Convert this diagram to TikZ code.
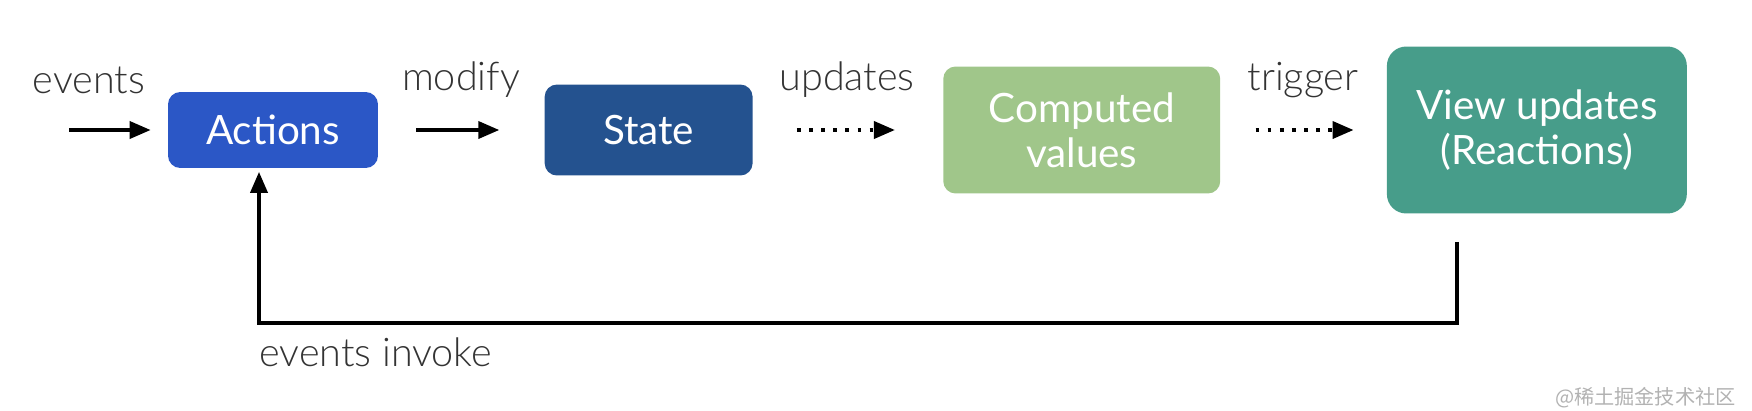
\documentclass[tikz,border=0pt]{standalone}
\usepackage{fontspec}
\setmainfont{Lato}
\newfontfamily\thinfont{Lato Light}
\newfontfamily\cjkfont{Noto Sans CJK SC}
\usepackage{tikz}
\usetikzlibrary{positioning,arrows.meta,calc}
\definecolor{actblue}{HTML}{2B57C6}
\definecolor{statblue}{HTML}{24528F}
\definecolor{compgreen}{HTML}{A0C68A}
\definecolor{viewteal}{HTML}{479D8A}
\definecolor{labelgray}{HTML}{333333}

\begin{document}
\begin{tikzpicture}[
      x=0.02cm, y=-0.02cm,
      box/.style={rounded corners=7pt,align=center,inner sep=0pt,text=white,
        font=\fontsize{23}{25.5}\selectfont},
      lbl/.style={font=\thinfont\fontsize{22.5}{26}\selectfont,text=labelgray,inner sep=0pt},
      arr/.style={-{Triangle[length=4.2mm,width=3.4mm]},line width=2.1pt},
      dotarr/.style={arr,dash pattern=on 2.1pt off 4.8pt}
    ]
      \useasboundingbox (0,0) rectangle (1752,410);

      \node[box,fill=actblue,minimum width=4.2cm,minimum height=1.52cm] (actions) at (273,130) {Actions};
      \node[box,fill=statblue,minimum width=4.16cm,minimum height=1.82cm,right=3.32cm of actions] (state) {State};
      \node[box,fill=compgreen,minimum width=5.54cm,minimum height=2.54cm,right=3.8cm of state] (computed) {Computed\\values};
      \node[box,fill=viewteal,rounded corners=11pt,minimum width=6cm,minimum height=3.34cm,right=3.32cm of computed] (view) {View updates\\(Reactions)};

      % labels above the arrows
      \node[lbl] (events) at (89,80) {events};
      \node[lbl] (modify) at (461,80) {modify};
      \node[lbl] (updates) at (847,80) {updates};
      \node[lbl] (trigger) at (1303,80) {trigger};
      \node[lbl,anchor=west] (invoke) at (259,352) {events invoke};

      \coordinate (evstart) at (69,130);
      \draw[arr,shorten >=0.34cm] (evstart) -- (actions);
      \draw[arr,shorten <=0.76cm,shorten >=0.9cm] (actions) -- (state);
      \draw[dotarr,shorten <=0.88cm,shorten >=0.96cm] (state) -- (computed);
      \draw[dotarr,shorten <=0.7cm,shorten >=0.66cm] (computed) -- (view);

      % feedback loop
      \draw[arr,shorten >=2pt] ([shift={(-80,28)}]view.south) -- ++(0,81) -| ([xshift=-0.28cm]actions.south);

      \node[font=\cjkfont\fontsize{11.5}{13}\selectfont,text=gray!60,anchor=east] (mark) at (1742,398) {@稀土掘金技术社区};
\end{tikzpicture}
\end{document}
